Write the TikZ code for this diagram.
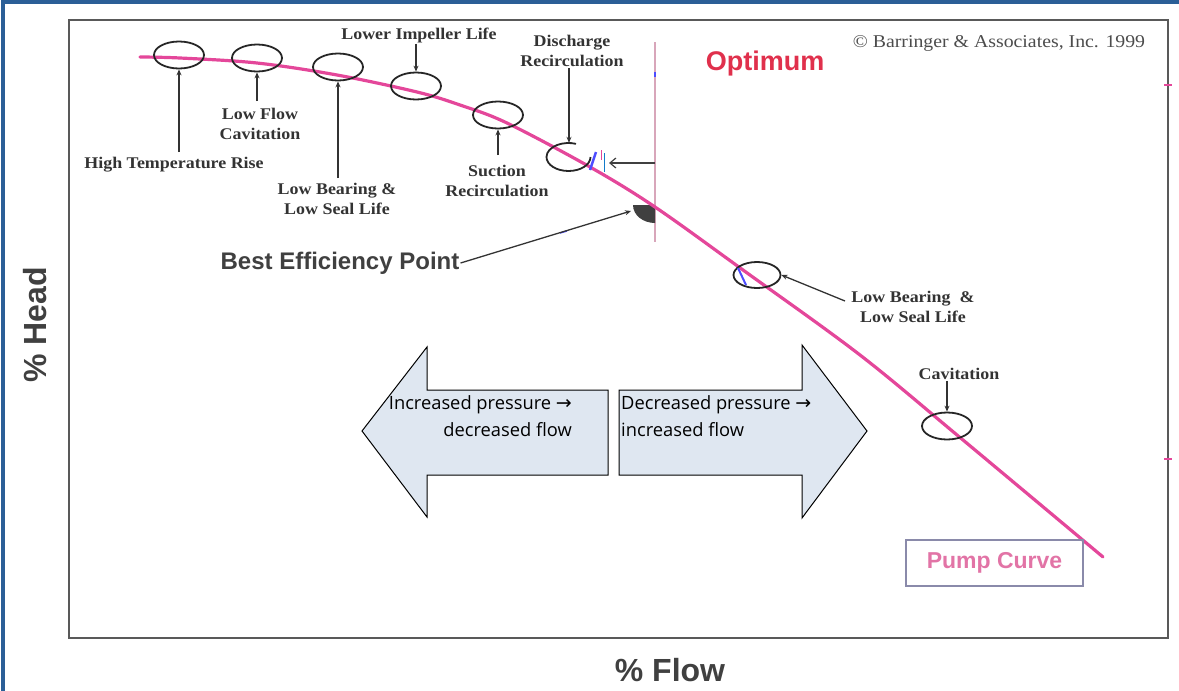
\documentclass[tikz,border=0pt]{standalone}
\usepackage{fontspec}
\usetikzlibrary{shapes.geometric,arrows.meta}
\newfontfamily\labfont[FakeStretch=1.1]{Liberation Serif}
\newfontfamily\hfont{Liberation Sans}
\newfontfamily\boxfont{Open Sans}
\newfontfamily\symfont{DejaVu Sans}
\definecolor{frameblue}{HTML}{2B5F97}
\definecolor{pump}{HTML}{E4479A}
\definecolor{optred}{HTML}{E0304C}
\definecolor{bepline}{HTML}{D8A6BA}
\definecolor{arrfill}{HTML}{DFE7F1}
\definecolor{labgray}{HTML}{333333}
\definecolor{boxedge}{HTML}{8A8AAA}
\definecolor{pumptxt}{HTML}{E274A6}
\tikzset{
  ring/.style={draw=black!85, line width=1.8pt, ellipse, minimum width=50pt, minimum height=27pt, inner sep=0pt},
  lab/.style={font=\labfont\bfseries\fontsize{16.3}{20}\selectfont, text=labgray, align=center, inner sep=1pt},
  pointer/.style={draw=black!80, line width=1.3pt, -{Stealth[length=6pt,width=5pt]}},
  bigarrow/.style={draw=black, line width=1pt, fill=arrfill},
  arrtxt/.style={font=\boxfont\fontsize{18.3}{25}\selectfont, inner sep=0pt},
  axis/.style={font=\hfont\bfseries\fontsize{32}{36}\selectfont, text=black!75},
}
\newcommand{\rarr}{{\symfont\fontsize{19}{19}\selectfont →}}
\begin{document}
\begin{tikzpicture}[x=1pt,y=-1pt]
\useasboundingbox (0,0) rectangle (1179,691);
% outer blue frame (left and top)
\draw[frameblue, line width=4pt] (3,691) -- (3,2) -- (1179,2);
% plot frame
\draw[black!65, line width=1.6pt] (69,20) rectangle (1168,638);
% small red ticks on right frame
\draw[pump, line width=1.2pt] (1164,85) -- (1172,85);
\draw[pump, line width=1.2pt] (1164,459) -- (1172,459);
% axis titles
\node[axis, rotate=90] (yl) at (35,325) {\% Head};
\node[axis] (xl) at (670,670) {\% Flow};
% BEP vertical line
\draw[bepline, line width=1.3pt] (655,42) -- (655,242);
% BEP quarter disc
\coordinate (bep) at (655,205);
\fill[black!75] (bep) -- (633,205) arc[start angle=180, end angle=90, x radius=22pt, y radius=-18pt] -- cycle;
% pump curve
\draw[pump, line width=3.2pt, line cap=round] plot[smooth, tension=0.55] coordinates {
 (140,57) (180,58) (257,63) (337,75) (417,92) (460,105) (507,123) (590,167) (655,207) (743,270) (860,355) (963,440) (1103,557)};
% rings
\node[ring] (e1) at (179,55) {};
\node[ring] (e2) at (257,58) {};
\node[ring] (e3) at (338,67) {};
\node[ring] (e4) at (416,86) {};
\node[ring] (e5) at (498,115) {};
\node[ellipse, minimum width=44pt, minimum height=28pt, inner sep=0pt] (e6) at (569,157) {};
\draw[black!85, line width=1.8pt] (e6.center) ++(21.5,0) arc[start angle=0, end angle=290, x radius=22pt, y radius=-14pt];
\node[ring, minimum width=47pt, minimum height=26pt] (e7) at (757,275) {};
\node[ring] (e8) at (947,426) {};
% small coloured marks
\draw[blue!70, line width=2.5pt] (590,170) -- (596,152);
\draw[pump, line width=1pt] (601,150) -- (601,160);
\draw[cyan!60!blue, line width=1pt] (604,153) -- (604,172);
\draw[blue!70, line width=2pt] (738,268) -- (746,285);
\draw[blue!70, line width=1.5pt] (560,233) -- (567,231);
\draw[blue!70, line width=1.5pt] (655,72) -- (655,77);
% labels
\node[lab] (l1) at (174,165) {High Temperature Rise};
\node[lab] (l2) at (260,124) {Low Flow\\Cavitation};
\node[lab] (l3) at (337,199) {Low Bearing \&\\Low Seal Life};
\node[lab] (l4) at (419,35) {Lower Impeller Life};
\node[lab] (l5) at (497,181) {Suction\\Recirculation};
\node[lab] (l6) at (572,51) {Discharge\\Recirculation};
\node[lab] (l7) at (913,307) {Low Bearing \ \&\\Low Seal Life};
\node[lab] (l8) at (959,374) {Cavitation};
\node[font=\hfont\bfseries\fontsize{24}{28}\selectfont, text=black!75, inner sep=1pt] (l9) at (340,263) {Best Efficiency Point};
\node[font=\hfont\bfseries\fontsize{27}{30}\selectfont, text=optred] (opt) at (765,64) {Optimum};
\node[font=\labfont\fontsize{18}{20}\selectfont, text=black!70] (copy) at (999,43) {© Barringer \& Associates, Inc. 1999};
\node[draw=boxedge, line width=1.5pt, minimum width=177pt, minimum height=46pt, font=\hfont\bfseries\fontsize{23}{26}\selectfont, text=pumptxt] (pc) at (994.5,563) {Pump Curve};
% pointers
\draw[pointer] (179,152) -- (e1.south);
\draw[pointer] (257,101) -- (e2.south);
\draw[pointer] (338,178) -- (e3.south);
\draw[pointer] (e4.north |- l4.south) -- (e4.north);
\draw[pointer] (498,155) -- (e5.south);
\draw[pointer] (e6.north |- l6.south) -- (e6.north);
\coordinate (bepa) at (655,163);
\draw[draw=black!75, line width=1.2pt, -{Straight Barb[length=6pt,width=10pt]}] (bepa) -- (609,163);
\draw[pointer] (l9.east) -- (631,211);
\draw[pointer] (845,301) -- (e7.east);
\draw[pointer] (e8.north |- l8.south) -- (e8.north);
% big arrows
\draw[bigarrow] (608,390) -- (427,390) -- (427,347) -- (362,431) -- (427,517) -- (427,475) -- (608,475) -- cycle;
\draw[bigarrow] (619,390) -- (802,390) -- (802,345) -- (867,431) -- (802,518) -- (802,475) -- (619,475) -- cycle;
\node[arrtxt, anchor=east] (t1) at (572,405) {Increased pressure \rarr};
\node[arrtxt, anchor=east] (t2) at (572,430) {decreased flow};
\node[arrtxt, anchor=west] (t3) at (621,405) {Decreased pressure \rarr};
\node[arrtxt, anchor=west] (t4) at (621,430) {increased flow};
\end{tikzpicture}
\end{document}
